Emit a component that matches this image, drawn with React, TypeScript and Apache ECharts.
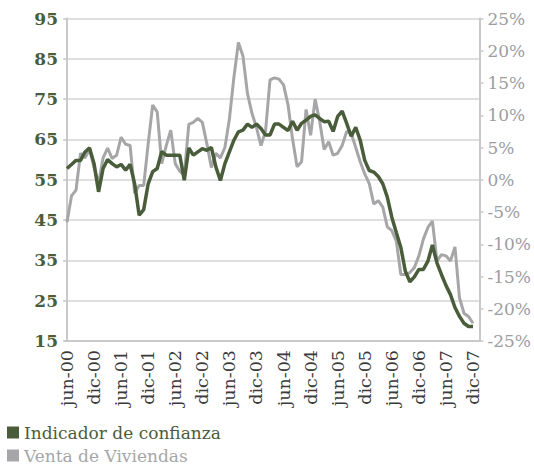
import { useEffect, useRef } from 'react';
import * as echarts from 'echarts';

// Monthly categories jun-00 .. dic-07
const MONTH_NAMES = ['ene', 'feb', 'mar', 'abr', 'may', 'jun', 'jul', 'ago', 'sep', 'oct', 'nov', 'dic'];
const months: string[] = [];
for (let y = 2000; y <= 2007; y++) {
  for (let m = 0; m < 12; m++) {
    if (y === 2000 && m < 5) continue;
    months.push(`${MONTH_NAMES[m]}-${String(y % 100).padStart(2, '0')}`);
  }
}

// Indicador de confianza (left axis)
const confianza = [
  57.8, 58.8, 59.8, 59.8, 61.9, 62.9, 59.0, 52.0, 57.8, 60.0,
  59.0, 58.2, 58.8, 57.4, 58.8, 54.0, 46.2, 47.6, 54.0, 57.0,
  57.8, 62.0, 61.1, 61.1, 61.1, 61.1, 54.9, 62.9, 61.1, 61.9,
  62.7, 62.3, 63.0, 58.2, 54.8, 59.0, 61.9, 64.8, 66.9, 67.3,
  68.8, 68.0, 68.8, 67.7, 66.1, 66.1, 68.8, 68.8, 68.0, 67.2,
  69.5, 67.3, 69.0, 69.8, 70.7, 71.1, 70.2, 69.4, 69.5, 67.0,
  70.7, 72.0, 69.0, 65.8, 68.0, 64.8, 59.8, 57.3, 56.9, 55.8,
  54.0, 50.7, 45.7, 41.9, 38.2, 32.3, 29.7, 30.9, 32.75, 32.75,
  34.8, 38.8, 34.4, 31.5, 28.8, 26.5, 23.3, 21.1, 19.4, 18.6,
  18.6,
];

// Venta de Viviendas, % (right axis)
const ventas = [
  -6.6, -2.5, -1.6, 4.1, 3.4, 4.7, 1.9, -0.6, 3.4, 4.9,
  3.3, 3.8, 6.6, 5.5, 5.3, -2.1, -0.9, -0.9, 5.6, 11.6,
  10.5, 2.5, 5.3, 7.7, 2.5, 1.3, 0.7, 8.6, 8.9, 9.5,
  8.9, 5.6, 1.9, 4.1, 3.4, 5.0, 9.4, 15.9, 21.3, 19.2,
  13.4, 10.3, 8.1, 5.3, 7.5, 15.5, 15.8, 15.6, 14.7, 11.6,
  6.3, 2.0, 2.8, 10.9, 6.9, 12.5, 9.1, 4.7, 5.9, 3.8,
  4.1, 5.3, 7.5, 7.2, 5.0, 2.8, 0.9, -0.6, -3.75, -3.25,
  -4.25, -7.3, -7.9, -9.5, -14.7, -14.7, -14.4, -13.6, -11.8, -9.2,
  -7.4, -6.4, -12.6, -11.6, -11.8, -12.6, -10.4, -18.3, -20.7, -21.2,
  -22.25,
];

const seriesNames = ['Indicador de confianza', 'Venta de Viviendas'];
const labelIndices = months.map((_, i) => i).filter((i) => i % 6 === 0);

const GREEN = '#4a5d3a';
const GRAY = '#a6a6a8';
const AXIS_GRAY = '#c9c9c9';
const FONT = 'DejaVu Serif';

export default function App() {
  const ref = useRef<HTMLDivElement>(null);

  useEffect(() => {
    document.body.style.margin = '0';
    const chart = echarts.init(ref.current!, null, { renderer: 'svg' });
    chart.setOption({
      animation: false,
      grid: { left: 65, right: 51, top: 18.5, bottom: 125 },
      legend: {
        orient: 'vertical',
        left: 7,
        top: 423,
        padding: 0,
        itemWidth: 12,
        itemHeight: 12,
        itemGap: 4,
        icon: 'rect',
        data: [
          { name: seriesNames[0], textStyle: { color: GREEN } },
          { name: seriesNames[1], textStyle: { color: GRAY } },
        ],
        textStyle: { fontFamily: FONT, fontSize: 17, lineHeight: 19 },
      },
      xAxis: {
        type: 'value',
        min: -0.44,
        max: 91.43,
        axisLine: { show: true, onZero: false, lineStyle: { color: AXIS_GRAY, width: 2 } },
        axisTick: { show: false },
        splitLine: { show: false },
        axisLabel: {
          customValues: labelIndices,
          rotate: 90,
          margin: 9,
          color: '#3a3a3a',
          fontFamily: FONT,
          fontSize: 17.5,
          formatter: (v: number) => months[Math.round(v)] ?? '',
        },
      },
      yAxis: [
        {
          type: 'value',
          min: 15,
          max: 95,
          interval: 10,
          position: 'left',
          axisLine: { show: true, lineStyle: { color: AXIS_GRAY, width: 2 } },
          axisTick: { show: true, length: 4, lineStyle: { color: AXIS_GRAY, width: 1.5 } },
          splitLine: { show: true, lineStyle: { color: '#d4d4d4', width: 1.5 } },
          axisLabel: {
            color: GREEN,
            fontWeight: 'bold',
            fontFamily: FONT,
            fontSize: 17,
            margin: 7,
          },
        },
        {
          type: 'value',
          min: -25,
          max: 25,
          interval: 5,
          position: 'right',
          axisLine: { show: true, lineStyle: { color: AXIS_GRAY, width: 2 } },
          axisTick: { show: true, length: 4, lineStyle: { color: AXIS_GRAY, width: 1.5 } },
          splitLine: { show: false },
          axisLabel: {
            color: '#9d9d9f',
            fontFamily: FONT,
            fontSize: 17,
            margin: 8,
            formatter: '{value}%',
          },
        },
      ],
      series: [
        {
          name: seriesNames[1],
          type: 'line',
          yAxisIndex: 1,
          data: ventas.map((v, i) => [i, v]),
          symbol: 'none',
          lineStyle: { color: GRAY, width: 3 },
          itemStyle: { color: GRAY },
        },
        {
          name: seriesNames[0],
          type: 'line',
          yAxisIndex: 0,
          data: confianza.map((v, i) => [i, v]),
          symbol: 'none',
          lineStyle: { color: GREEN, width: 3.5 },
          itemStyle: { color: GREEN },
        },
      ],
    });
    return () => chart.dispose();
  }, []);

  return <div ref={ref} style={{ width: 534, height: 466 }} />;
}
